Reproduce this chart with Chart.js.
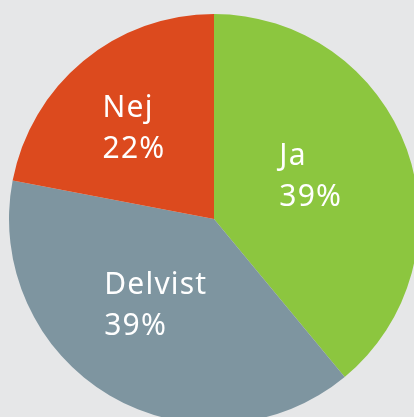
<!DOCTYPE html>
<html><head><meta charset="utf-8">
<script src="https://cdn.jsdelivr.net/npm/chart.js@4"></script>
<style>
html,body{margin:0;padding:0;background:#e6e7e8;overflow:hidden;width:414px;height:417px;}
#wrap{width:428px;height:438px;position:relative;}
</style></head>
<body>
<div id="wrap"><canvas id="c"></canvas></div>
<script>
const categories = ['Ja', 'Delvist', 'Nej'];
const values = [39, 39, 22];
const percentLabels = ['39%', '39%', '22%'];
const colors = ['#8cc63f', '#7e95a0', '#dc4a1e'];

// label placement: radial fraction and angle offset (deg) relative to slice mid-angle
const labelPlace = [
  {rf: 0.52, da: -5},
  {rf: 0.50, da: 4},
  {rf: 0.60, da: -1}
];

const labelPlugin = {
  id: 'sliceLabels',
  afterDatasetsDraw(chart) {
    const ctx = chart.ctx;
    const meta = chart.getDatasetMeta(0);
    ctx.save();
    ctx.fillStyle = '#ffffff';
    ctx.font = '400 30px "Noto Sans"';
    try { ctx.letterSpacing = '1.2px'; } catch(e) {}
    ctx.textAlign = 'left';
    ctx.textBaseline = 'middle';
    const lh = 41;
    meta.data.forEach((arc, i) => {
      const p = arc.getProps(['x','y','startAngle','endAngle','outerRadius'], true);
      const mid = (p.startAngle + p.endAngle) / 2 + labelPlace[i].da * Math.PI / 180;
      const r = p.outerRadius * labelPlace[i].rf;
      const cx = p.x + Math.cos(mid) * r;
      const cy = p.y + Math.sin(mid) * r + 3;
      const lines = [categories[i], percentLabels[i]];
      const w = Math.max(...lines.map(t => ctx.measureText(t).width));
      const x0 = cx - w / 2;
      lines.forEach((t, j) => {
        ctx.fillText(t, x0, cy + (j - (lines.length - 1) / 2) * lh);
      });
    });
    ctx.restore();
  }
};

new Chart(document.getElementById('c'), {
  type: 'pie',
  data: {
    labels: categories,
    datasets: [{
      data: values,
      backgroundColor: colors,
      borderWidth: 0
    }]
  },
  options: {
    responsive: true,
    maintainAspectRatio: false,
    animation: false,
    layout: { padding: { left: 9, right: 9, top: 14, bottom: 14 } },
    plugins: { legend: { display: false }, tooltip: { enabled: false } }
  },
  plugins: [labelPlugin]
});
</script>
</body></html>
